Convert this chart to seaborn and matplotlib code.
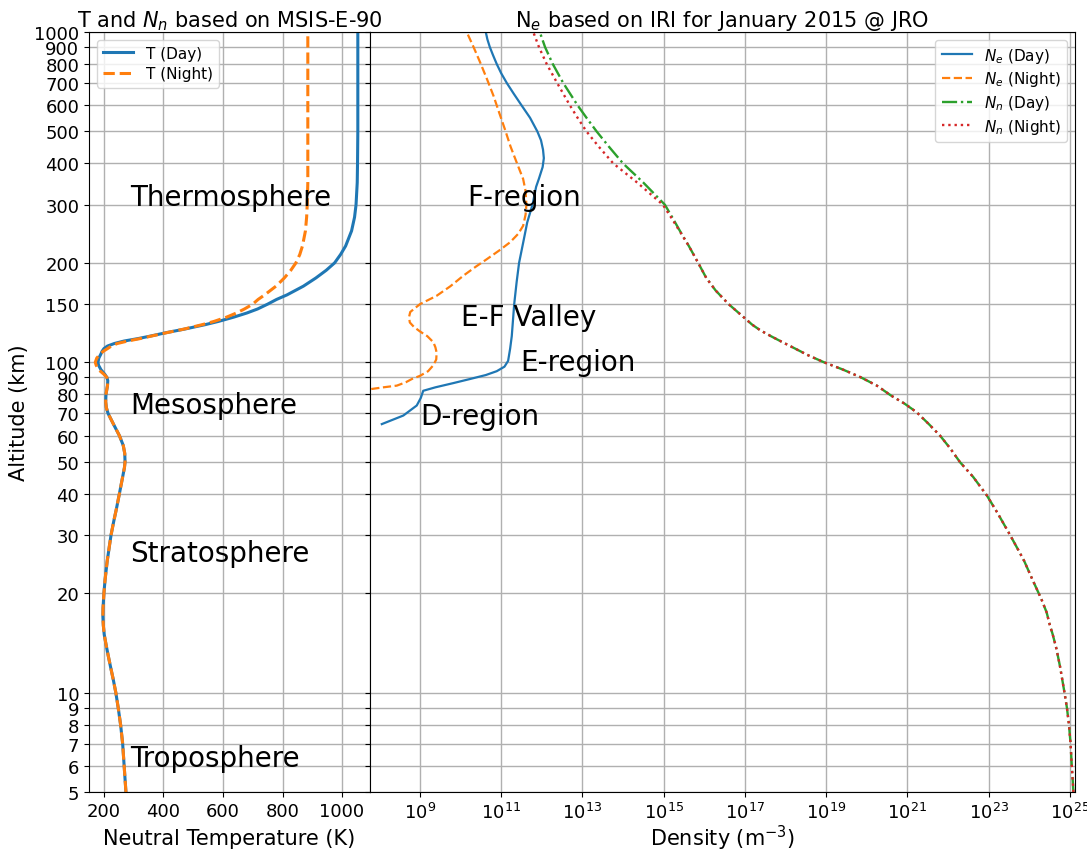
import numpy as np
import pandas as pd
import matplotlib
matplotlib.use("Agg")
import matplotlib.pyplot as plt
from matplotlib.ticker import NullLocator, FixedLocator, FixedFormatter
import seaborn as sns

# ---- Neutral temperature profiles (MSIS-E-90), K ----
alt_t = [5, 6, 7, 8, 9, 10, 11, 12, 13, 14, 15, 16, 17, 18, 20, 22, 25, 28, 30,
         33, 36, 40, 45, 48, 50, 53, 56, 60, 65, 70, 73, 76, 80, 85, 88, 90, 92,
         95, 98, 100, 103, 106, 108, 110, 112, 114, 116, 118, 120, 123, 126, 130,
         133, 137, 141, 145, 150, 155, 160, 170, 180, 190, 200, 212, 225, 250,
         275, 300, 350, 400, 500, 700, 1000]
temp_day = [274, 268, 263, 256, 248, 240, 231, 222, 214, 207, 201, 198, 196.5,
            197, 200, 204, 211, 219, 224, 233, 242, 252, 263, 269, 271, 270, 265,
            252, 232, 214, 208, 206, 207, 212, 213, 210, 203, 190, 182, 180, 183,
            190, 194, 200, 212, 235, 268, 315, 355, 410, 470, 540, 585, 636, 680,
            716, 750, 780, 815, 870, 912, 947, 975, 995, 1012, 1032, 1042, 1047,
            1051, 1052, 1053, 1053, 1053]
temp_night = [274, 268, 263, 256, 248, 240, 231, 222, 214, 207, 201, 198, 196.5,
              197, 200, 204, 211, 219, 224, 233, 242, 252, 263, 269, 271, 270, 265,
              252, 232, 214, 208, 206, 207, 212, 213, 210, 200, 182, 174, 171, 176,
              188, 198, 212, 225, 245, 280, 322, 358, 412, 468, 530, 570, 612, 645,
              672, 700, 718, 740, 778, 806, 828, 845, 858, 867, 877, 881, 883, 885,
              885, 885, 885, 885]

# ---- Neutral density, log10(m^-3) ----
alt_n = [5, 5.5, 6, 7, 8, 9, 10, 12, 13.6, 15, 16, 17.5, 19.2, 22, 25, 27.2, 30,
         35, 39.5, 45, 49.8, 55, 59.9, 65, 70.6, 75, 79.3, 85, 90, 95, 100, 105,
         110, 115, 120, 125, 130, 140, 150, 165, 180, 200, 225, 250, 275, 300,
         350, 400, 450, 500, 550, 600, 700, 800, 900, 1000]
nn_day_log = [25.09, 25.07, 25.05, 25.02, 24.98, 24.93, 24.87, 24.76, 24.67,
              24.58, 24.51, 24.43, 24.30, 24.08, 23.88, 23.72, 23.53, 23.22, 22.96,
              22.62, 22.30, 22.05, 21.81, 21.53, 21.23, 20.93, 20.60, 20.25, 19.86,
              19.42, 18.95, 18.56, 18.24, 17.93, 17.64, 17.38, 17.18, 16.88, 16.60,
              16.28, 16.05, 15.85, 15.62, 15.40, 15.21, 15.03, 14.50, 14.00, 13.65,
              13.35, 13.10, 12.88, 12.53, 12.27, 12.08, 11.95]
nn_night_log = [25.09, 25.07, 25.05, 25.02, 24.98, 24.93, 24.87, 24.76, 24.67,
                24.58, 24.51, 24.43, 24.30, 24.08, 23.88, 23.72, 23.53, 23.22, 22.96,
                22.62, 22.30, 22.05, 21.81, 21.53, 21.23, 20.93, 20.60, 20.25, 19.86,
                19.42, 18.95, 18.56, 18.24, 17.93, 17.64, 17.38, 17.18, 16.88, 16.60,
                16.28, 16.05, 15.85, 15.62, 15.39, 15.18, 14.98, 14.35, 13.76, 13.40,
                13.10, 12.88, 12.69, 12.38, 12.12, 11.93, 11.79]

# ---- Electron density from IRI, log10(m^-3) ----
alt_ed = [65, 69, 74, 78, 82, 84, 86.5, 89, 91.5, 94, 97, 101, 110, 120, 150, 175,
          200, 230, 265, 300, 340, 360, 390, 415, 440, 470, 500, 550, 600, 650, 700,
          750, 800, 850, 900, 950, 1000]
ne_day_log = [8.06, 8.59, 8.92, 9.02, 9.08, 9.38, 9.82, 10.23, 10.62, 10.89, 11.08,
              11.17, 11.22, 11.26, 11.32, 11.38, 11.44, 11.54, 11.64, 11.77, 11.86,
              11.93, 12.02, 12.05, 12.03, 11.98, 11.89, 11.71, 11.50, 11.31, 11.14,
              11.00, 10.89, 10.80, 10.72, 10.66, 10.62]

alt_en = [83, 84, 85, 87, 89, 91, 94, 98, 102, 107, 111, 115, 120, 124, 128, 132,
          137, 142, 146, 150, 159, 170, 183, 195, 205, 218, 231, 245, 259, 280, 300,
          330, 359, 403, 450, 508, 570, 641, 720, 810, 900, 1000]
ne_night_log = [7.80, 8.10, 8.43, 8.65, 8.80, 9.00, 9.20, 9.33, 9.40, 9.41, 9.38,
                9.33, 9.18, 9.00, 8.85, 8.75, 8.73, 8.76, 8.88, 9.00, 9.41, 9.75,
                10.07, 10.38, 10.64, 10.95, 11.22, 11.42, 11.54, 11.60, 11.62, 11.60,
                11.54, 11.38, 11.23, 11.09, 10.95, 10.81, 10.65, 10.48, 10.32, 10.15]

alt_ticks = [5, 6, 7, 8, 9, 10, 20, 30, 40, 50, 60, 70, 80, 90, 100, 150, 200,
             300, 400, 500, 600, 700, 800, 900, 1000]
temp_ticks = [200, 400, 600, 800, 1000]
dens_exp_ticks = [9, 11, 13, 15, 17, 19, 21, 23, 25]

layers = [("Thermosphere", 300), ("Mesosphere", 70), ("Stratosphere", 25),
          ("Troposphere", 6)]
regions = [("F-region", 1.5e10, 300), ("E-F Valley", 1.0e10, 130),
           ("E-region", 3.0e11, 95), ("D-region", 1.0e9, 65)]

blue, orange, green, red = sns.color_palette("tab10")[:4]

fig = plt.figure(figsize=(10.87, 8.53), dpi=100)
gs = fig.add_gridspec(1, 2, width_ratios=[281, 705], wspace=0,
                      left=0.0819, right=0.989, top=0.9613, bottom=0.0703)
ax1 = fig.add_subplot(gs[0])
ax2 = fig.add_subplot(gs[1], sharey=ax1)

tick_fs = 13
label_fs = 15

# Left panel: temperature
df_t = pd.DataFrame({"alt": alt_t, "day": temp_day, "night": temp_night})
sns.lineplot(data=df_t, x="day", y="alt", sort=False, estimator=None, ax=ax1,
             color=blue, lw=2.2, label="T (Day)")
sns.lineplot(data=df_t, x="night", y="alt", sort=False, estimator=None, ax=ax1,
             color=orange, lw=2.2, linestyle="--", label="T (Night)")

ax1.set_yscale("log")
ax1.set_ylim(5, 1000)
ax1.set_xlim(150, 1094)
ax1.yaxis.set_major_locator(FixedLocator(alt_ticks))
ax1.yaxis.set_major_formatter(FixedFormatter([str(t) for t in alt_ticks]))
ax1.yaxis.set_minor_locator(NullLocator())
ax1.set_xticks(temp_ticks)
ax1.set_xlabel("Neutral Temperature (K)", fontsize=label_fs)
ax1.xaxis.set_label_coords(0.5, -0.047)
ax1.set_ylabel("Altitude (km)", fontsize=label_fs)
ax1.set_title(r"T and $N_n$ based on MSIS-E-90", fontsize=15, pad=0)
ax1.tick_params(labelsize=tick_fs)
ax1.grid(True, color="#b0b0b0", lw=1.0)
ax1.legend(loc="upper left", fontsize=11, labelspacing=0.37)
for name, alt in layers:
    ax1.text(287, alt, name, fontsize=20, ha="left", va="baseline")

# Right panel: densities
df_nn = pd.DataFrame({"alt": alt_n, "day": np.power(10.0, nn_day_log),
                      "night": np.power(10.0, nn_night_log)})
df_ed = pd.DataFrame({"alt": alt_ed, "ne": np.power(10.0, ne_day_log)})
df_en = pd.DataFrame({"alt": alt_en, "ne": np.power(10.0, ne_night_log)})

sns.lineplot(data=df_ed, x="ne", y="alt", sort=False, estimator=None, ax=ax2,
             color=blue, lw=1.6, label=r"$N_e$ (Day)")
sns.lineplot(data=df_en, x="ne", y="alt", sort=False, estimator=None, ax=ax2,
             color=orange, lw=1.6, linestyle="--", label=r"$N_e$ (Night)")
sns.lineplot(data=df_nn, x="day", y="alt", sort=False, estimator=None, ax=ax2,
             color=green, lw=1.7, linestyle="-.", label=r"$N_n$ (Day)")
sns.lineplot(data=df_nn, x="night", y="alt", sort=False, estimator=None, ax=ax2,
             color=red, lw=1.7, linestyle=":", label=r"$N_n$ (Night)")

ax2.set_xscale("log")
ax2.set_xlim(10 ** 7.77, 10 ** 25.13)
ax2.set_xticks([10.0 ** e for e in dens_exp_ticks])
ax2.xaxis.set_minor_locator(NullLocator())
ax2.set_xlabel(r"Density (m$^{-3}$)", fontsize=label_fs)
ax2.xaxis.set_label_coords(0.5, -0.040)
ax2.set_ylabel("")
ax2.set_title(r"N$_e$ based on IRI for January 2015 @ JRO", fontsize=15, pad=0)
ax2.tick_params(labelsize=tick_fs)
ax2.tick_params(axis="y", labelleft=False)
ax2.grid(True, color="#b0b0b0", lw=1.0)
ax2.legend(loc="upper right", fontsize=11, labelspacing=0.3)
for name, xv, alt in regions:
    ax2.text(xv, alt, name, fontsize=20, ha="left", va="baseline")

fig.savefig("out.png", dpi=100)
